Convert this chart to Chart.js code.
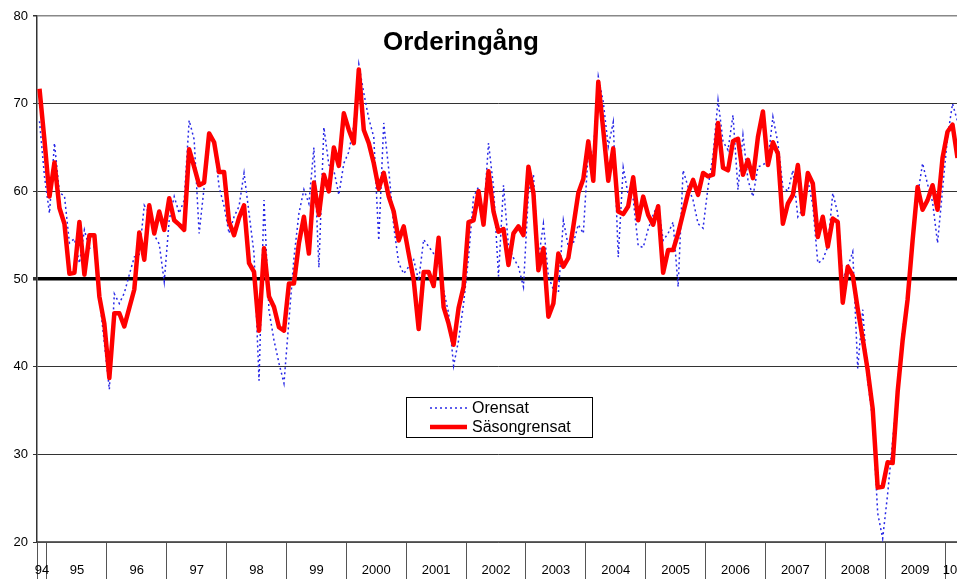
<!DOCTYPE html>
<html>
<head>
<meta charset="utf-8">
<script src="https://cdn.jsdelivr.net/npm/chart.js@4/dist/chart.umd.min.js"></script>
<style>
  html, body { margin: 0; padding: 0; background: #fff; overflow: hidden; }
  #wrap { position: absolute; left: 0; top: 0; width: 960px; height: 579px; }
</style>
</head>
<body>
<div id="wrap"><canvas id="orderChart"></canvas></div>
<script>
  // monthly values, Nov 1994 .. Mar 2010
  const startYear = 1994;
  const startMonth = 10; // 0 = jan

  const titleText = 'Orderingång';
  const yearLabels = ['94', '95', '96', '97', '98', '99', '2000', '2001', '2002', '2003',
    '2004', '2005', '2006', '2007', '2008', '2009', '10'];
  const yTicks = [20, 30, 40, 50, 60, 70, 80];

  const orensat = [
    68.0, 61.7, 57.5, 65.5, 59.8, 59.5, 54.1, 54.6, 51.8, 55.6, 53.5, 53.7,
    48.0, 42.7, 37.4, 48.3, 47.2, 48.4, 50.5, 52.5, 52.8, 58.4, 57.5, 55.0,
    54.0, 49.7, 56.7, 59.4, 57.5, 59.0, 68.1, 65.9, 55.2, 60.5, 66.6, 65.5,
    60.5, 58.3, 55.2, 57.1, 58.3, 62.1, 57.5, 52.9, 38.4, 59.0, 46.4, 43.0,
    40.4, 38.1, 45.3, 52.4, 57.5, 60.2, 58.6, 65.0, 51.3, 67.3, 63.0, 62.4,
    59.6, 63.2, 64.5, 67.5, 74.5, 71.2, 68.3, 66.2, 54.4, 67.8, 62.5, 56.0,
    51.8, 50.6, 51.4, 52.2, 49.8, 54.5, 53.7, 52.9, 52.0, 48.7, 46.1, 40.1,
    43.0, 47.2, 52.5, 59.4, 60.5, 57.1, 65.5, 60.5, 50.3, 60.7, 53.7, 52.4,
    51.4, 49.1, 59.8, 61.9, 52.2, 56.3, 50.3, 48.8, 48.4, 56.7, 53.7, 54.1,
    56.2, 55.2, 64.7, 64.3, 73.1, 70.2, 65.1, 67.9, 52.5, 62.7, 59.6, 59.1,
    53.8, 53.6, 55.7, 57.3, 58.6, 54.4, 55.2, 56.5, 49.1, 62.4, 60.5, 59.0,
    56.3, 55.8, 60.5, 64.1, 70.4, 65.7, 64.7, 68.7, 60.2, 66.4, 61.3, 59.4,
    62.8, 63.0, 63.5, 68.5, 65.5, 60.5, 60.0, 62.4, 57.1, 58.0, 61.3, 58.4,
    51.8, 52.2, 53.7, 59.8, 57.5, 49.9, 51.4, 53.1, 39.8, 46.5, 38.4, 33.9,
    23.3, 20.4, 25.5, 31.6, 37.6, 44.1, 48.3, 55.5, 59.5, 63.2, 60.8, 58.8,
    54.1, 60.2, 66.2, 70.0, 68.0
  ];

  const sasongrensat = [
    71.7, 65.8, 59.4, 63.3, 58.1, 56.3, 50.6, 50.7, 56.5, 50.5, 55.0, 55.0,
    48.0, 44.9, 38.7, 46.1, 46.1, 44.6, 46.7, 48.8, 55.3, 52.2, 58.4, 55.2,
    57.7, 55.6, 59.2, 56.7, 56.2, 55.6, 64.8, 62.8, 60.7, 61.0, 66.6, 65.6,
    62.2, 62.2, 56.5, 55.0, 57.0, 58.4, 51.8, 50.8, 44.1, 53.5, 48.0, 46.8,
    44.5, 44.1, 49.5, 49.5, 54.1, 57.1, 52.9, 61.0, 57.3, 61.9, 60.0, 65.0,
    62.9, 68.9, 67.0, 65.5, 73.9, 67.0, 65.5, 63.2, 60.3, 62.1, 59.4, 57.7,
    54.4, 56.0, 52.9, 49.9, 44.3, 50.8, 50.8, 49.2, 54.7, 46.8, 44.9, 42.5,
    46.7, 49.1, 56.5, 56.7, 60.0, 56.2, 62.3, 57.7, 55.4, 55.7, 51.6, 55.2,
    56.0, 55.0, 62.8, 59.8, 51.0, 53.5, 45.7, 47.2, 52.9, 51.4, 52.4, 56.0,
    59.8, 61.4, 65.7, 61.2, 72.5, 67.0, 61.2, 64.9, 57.7, 57.4, 58.3, 61.6,
    56.7, 59.4, 57.3, 56.2, 58.3, 50.7, 53.3, 53.3, 55.2, 57.5, 59.8, 61.3,
    59.6, 62.1, 61.7, 61.9, 67.8, 62.7, 62.4, 65.7, 66.0, 61.9, 63.6, 61.5,
    66.2, 69.1, 63.0, 65.6, 64.3, 56.3, 58.6, 59.6, 63.0, 57.4, 62.1, 60.9,
    54.8, 57.1, 53.7, 56.9, 56.5, 47.3, 51.4, 50.4, 46.6, 43.2, 39.6, 35.2,
    26.2, 26.3, 29.1, 29.0, 37.1, 43.0, 47.7, 54.4, 60.5, 57.9, 59.0, 60.7,
    57.9, 63.8, 66.8, 67.6, 63.8
  ];

  const months = sasongrensat.map((v, i) => {
    const m = startMonth + i;
    return (startYear + Math.floor(m / 12)) + '-' + String(m % 12 + 1).padStart(2, '0');
  });

  function monthOf(i) { return (startMonth + i) % 12; }
  function yearIdx(i) { return Math.floor((startMonth + i) / 12); }

  // year label sits mid-year (first/last partial years get their own spot)
  function yearLabel(i) {
    const m = monthOf(i), y = yearIdx(i);
    if (y === 0) return m === 11 ? yearLabels[0] : '';
    if (y === yearLabels.length - 1) return m === 1 ? yearLabels[y] : '';
    return m === 6 ? yearLabels[y] : '';
  }

  Chart.defaults.font.family = '"Liberation Sans", Arial, sans-serif';
  Chart.defaults.color = '#000';

  const overlay = {
    id: 'overlay',
    afterDraw(chart) {
      const ctx = chart.ctx;
      ctx.save();
      ctx.fillStyle = '#000';
      ctx.font = 'bold 26px "Liberation Sans", Arial, sans-serif';
      ctx.textAlign = 'center';
      ctx.textBaseline = 'alphabetic';
      ctx.fillText(titleText, 461, 49.5);

      // legend box
      ctx.fillStyle = '#fff';
      ctx.fillRect(406, 397, 187, 40);
      ctx.strokeStyle = '#000';
      ctx.lineWidth = 1;
      ctx.strokeRect(406.5, 397.5, 186, 40);
      const rows = [408, 427];
      chart.data.datasets.forEach((ds, k) => {
        const y = rows[k];
        ctx.strokeStyle = ds.borderColor;
        ctx.lineWidth = ds.borderWidth;
        ctx.setLineDash(ds.borderDash || []);
        ctx.beginPath();
        ctx.moveTo(430, y);
        ctx.lineTo(467, y);
        ctx.stroke();
        ctx.setLineDash([]);
        ctx.fillStyle = '#000';
        ctx.font = '16px "Liberation Sans", Arial, sans-serif';
        ctx.textAlign = 'left';
        ctx.textBaseline = 'middle';
        ctx.fillText(ds.label, 472, y + 1);
      });
      ctx.restore();
    }
  };

  new Chart(document.getElementById('orderChart'), {
    type: 'line',
    data: {
      labels: months,
      datasets: [{
        label: 'Orensat',
        data: orensat,
        borderColor: 'rgb(40, 40, 230)',
        borderWidth: 1.5,
        borderDash: [2, 3],
        pointRadius: 0,
        tension: 0,
        order: 1
      }, {
        label: 'Säsongrensat',
        data: sasongrensat,
        borderColor: '#ff0000',
        borderWidth: 4.5,
        borderJoinStyle: 'round',
        pointRadius: 0,
        tension: 0,
        order: 0
      }]
    },
    options: {
      responsive: true,
      maintainAspectRatio: false,
      animation: false,
      devicePixelRatio: 1,
      layout: { padding: { top: 16, right: 0, left: 0, bottom: 0 } },
      plugins: {
        legend: { display: false },
        title: { display: false },
        tooltip: { enabled: false }
      },
      scales: {
        x: {
          type: 'category',
          offset: true,
          afterFit(scale) { scale.height = 37; },
          border: { display: true, color: '#666', width: 1.5 },
          grid: {
            offset: true,
            drawOnChartArea: false,
            drawTicks: true,
            tickLength: 37,
            color: (c) => (c.index === 0 || monthOf(c.index) === 0) ? '#555' : 'rgba(0,0,0,0)',
            lineWidth: 1
          },
          ticks: {
            autoSkip: false,
            maxRotation: 0,
            minRotation: 0,
            padding: -16,
            labelOffset: -2.5,
            font: { size: 13 },
            callback: (value, index) => yearLabel(index)
          }
        },
        y: {
          min: 20,
          max: 80,
          afterFit(scale) { scale.width = 37; },
          afterBuildTicks(scale) { scale.ticks = yTicks.map(v => ({ value: v })); },
          border: { display: true, color: '#333', width: 1.5 },
          grid: {
            color: (c) => c.tick.value === 50 ? '#000' : (c.tick.value === 80 ? '#888' : '#333'),
            lineWidth: (c) => c.tick.value === 50 ? 3.5 : (c.tick.value === 80 ? 1.5 : 1),
            tickColor: '#333',
            tickLength: 4
          },
          ticks: {
            padding: 5,
            font: { size: 13 }
          }
        }
      }
    },
    plugins: [overlay]
  });
</script>
</body>
</html>
